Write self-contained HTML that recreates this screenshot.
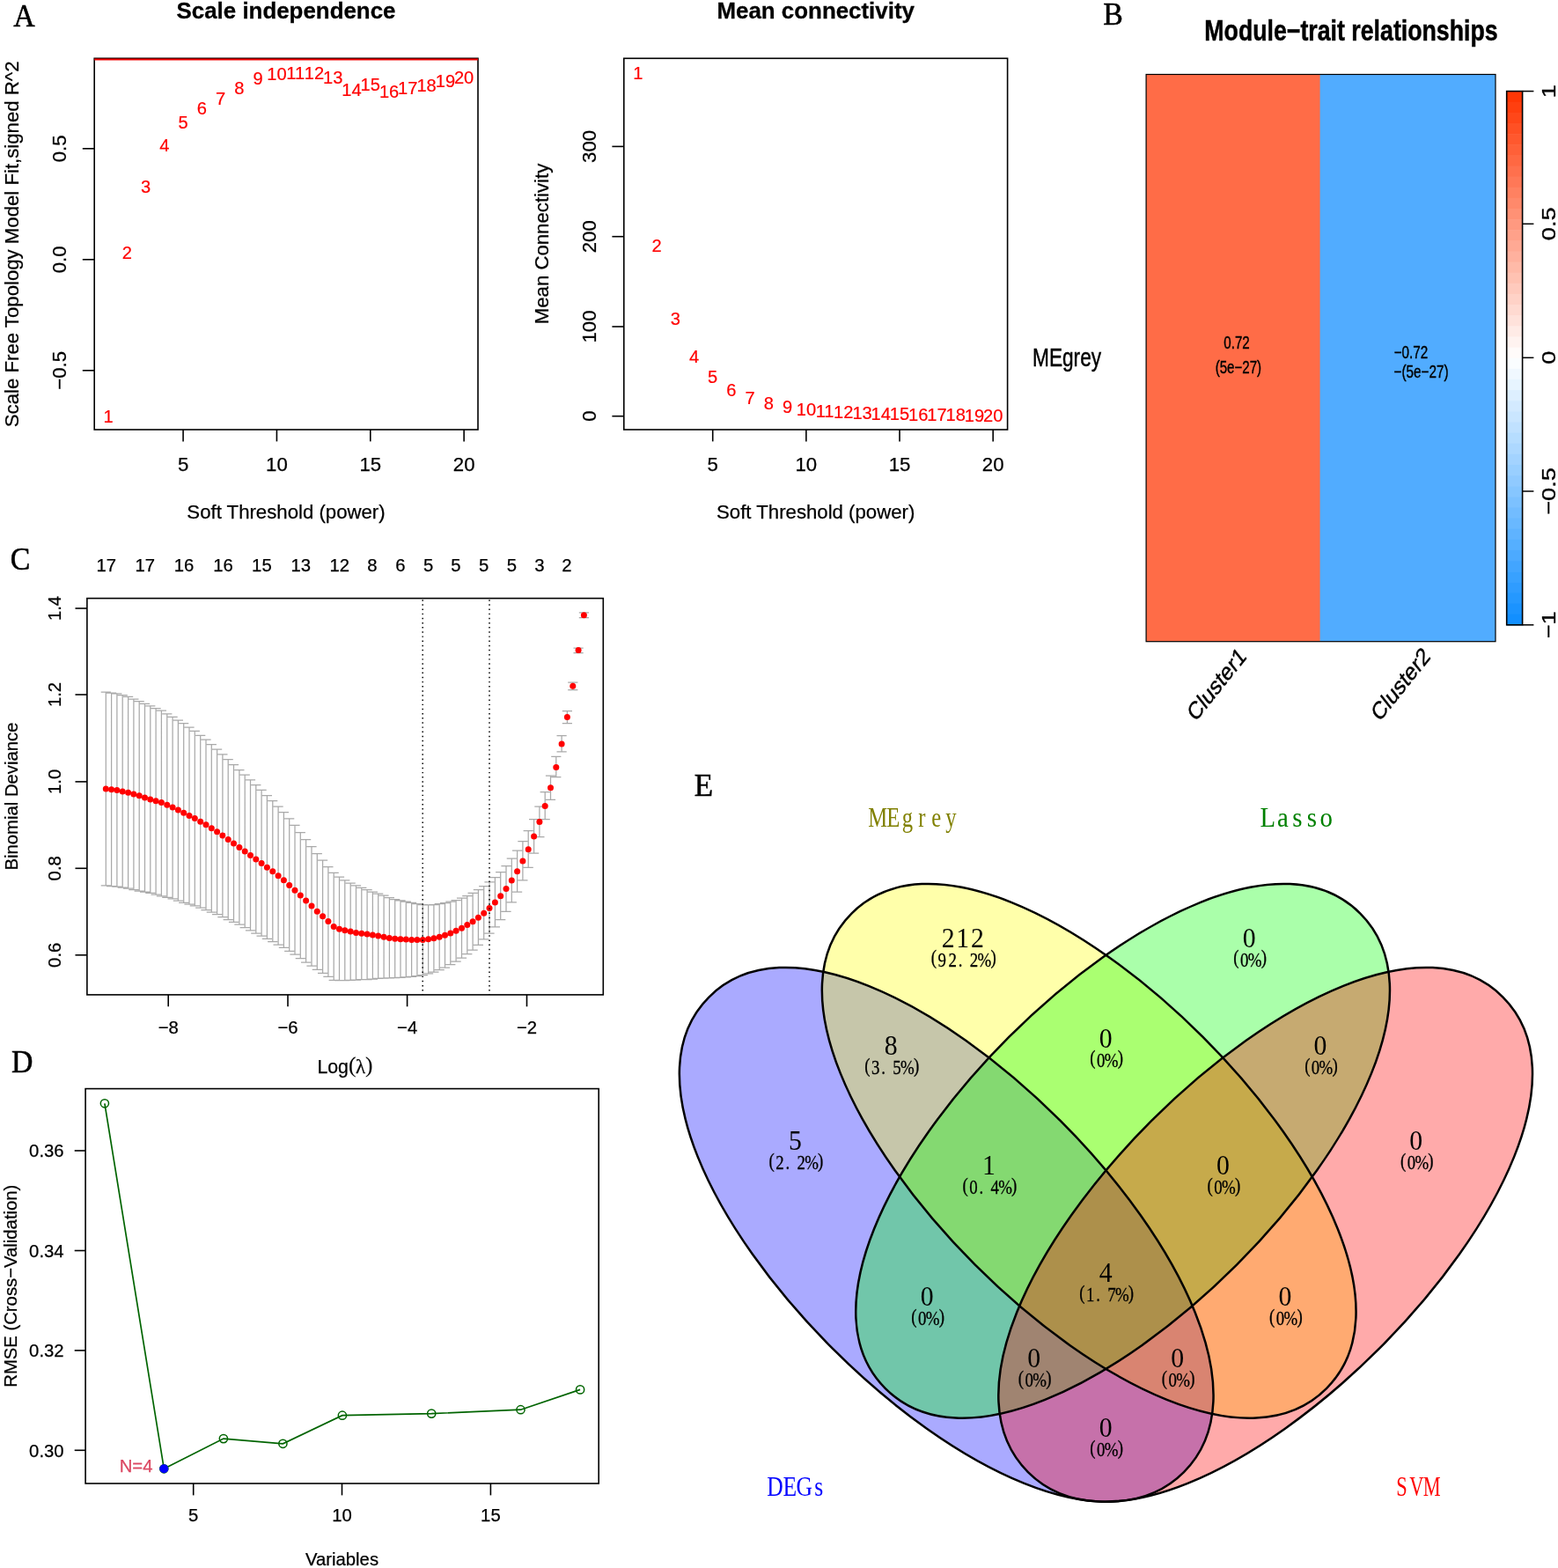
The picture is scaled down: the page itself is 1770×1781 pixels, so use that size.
<!DOCTYPE html>
<html lang="en">
<head>
<meta charset="utf-8">
<title>Figure: WGCNA, LASSO, SVM-RFE and Venn diagram</title>
<style>
html,body{margin:0;padding:0;background:#fff;}
body{width:1770px;height:1781px;overflow:hidden;}
svg{display:block;}
.s{font-family:"Liberation Sans",sans-serif;}
.r{font-family:"Liberation Serif",serif;}
</style>
</head>
<body>
<svg width="1770" height="1781" viewBox="0 0 1770 1781">
<rect x="0" y="0" width="1770" height="1781" fill="#fff"/>
<g id="panelA">
<text class="r" transform="translate(27.40 29.90) scale(0.93 1)" font-size="36.4" text-anchor="middle" stroke="#000" stroke-width="0.55">A</text>
<text class="s" transform="translate(325.00 21.30)" font-size="25.9" text-anchor="middle" font-weight="bold" stroke="#000" stroke-width="0.3">Scale independence</text>
<rect x="107.20" y="66.30" width="435.80" height="421.70" fill="none" stroke="#000" stroke-width="1.6"/>
<line x1="107.20" y1="67.60" x2="543.00" y2="67.60" stroke="#f00000" stroke-width="2.0"/>
<line x1="208.08" y1="488.00" x2="208.08" y2="501.40" stroke="#000" stroke-width="1.6"/>
<text class="s" transform="translate(208.08 534.50)" font-size="22.2" text-anchor="middle" stroke="#000" stroke-width="0.25">5</text>
<line x1="314.43" y1="488.00" x2="314.43" y2="501.40" stroke="#000" stroke-width="1.6"/>
<text class="s" transform="translate(314.43 534.50)" font-size="22.2" text-anchor="middle" stroke="#000" stroke-width="0.25">10</text>
<line x1="420.78" y1="488.00" x2="420.78" y2="501.40" stroke="#000" stroke-width="1.6"/>
<text class="s" transform="translate(420.78 534.50)" font-size="22.2" text-anchor="middle" stroke="#000" stroke-width="0.25">15</text>
<line x1="527.13" y1="488.00" x2="527.13" y2="501.40" stroke="#000" stroke-width="1.6"/>
<text class="s" transform="translate(527.13 534.50)" font-size="22.2" text-anchor="middle" stroke="#000" stroke-width="0.25">20</text>
<line x1="93.80" y1="168.80" x2="107.20" y2="168.80" stroke="#000" stroke-width="1.6"/>
<text class="s" transform="translate(74.80 168.80) rotate(-90)" font-size="22.2" text-anchor="middle" stroke="#000" stroke-width="0.25">0.5</text>
<line x1="93.80" y1="294.80" x2="107.20" y2="294.80" stroke="#000" stroke-width="1.6"/>
<text class="s" transform="translate(74.80 294.80) rotate(-90)" font-size="22.2" text-anchor="middle" stroke="#000" stroke-width="0.25">0.0</text>
<line x1="93.80" y1="420.80" x2="107.20" y2="420.80" stroke="#000" stroke-width="1.6"/>
<text class="s" transform="translate(74.80 420.80) rotate(-90)" font-size="22.2" text-anchor="middle" stroke="#000" stroke-width="0.25">−0.5</text>
<text class="s" transform="translate(20.60 277.30) rotate(-90)" font-size="22.2" text-anchor="middle" stroke="#000" stroke-width="0.25">Scale Free Topology Model Fit,signed R^2</text>
<text class="s" transform="translate(325.00 589.00)" font-size="22.2" text-anchor="middle" stroke="#000" stroke-width="0.25">Soft Threshold (power)</text>
<g class="s" font-size="20.1" fill="#f00" stroke="#f00" stroke-width="0.2" text-anchor="middle">
<text x="123.0" y="479.8">1</text>
<text x="144.3" y="294.1">2</text>
<text x="165.5" y="219.4">3</text>
<text x="186.8" y="172.1">4</text>
<text x="208.1" y="146.3">5</text>
<text x="229.3" y="129.6">6</text>
<text x="250.6" y="118.5">7</text>
<text x="271.9" y="107.1">8</text>
<text x="293.2" y="96.4">9</text>
<text x="314.4" y="91.3">10</text>
<text x="335.7" y="89.7">11</text>
<text x="357.0" y="89.7">12</text>
<text x="378.2" y="94.5">13</text>
<text x="399.5" y="109.1">14</text>
<text x="420.8" y="102.5">15</text>
<text x="442.1" y="111.3">16</text>
<text x="463.3" y="107.4">17</text>
<text x="484.6" y="104.3">18</text>
<text x="505.9" y="99.4">19</text>
<text x="527.1" y="94.8">20</text>
</g>
<text class="s" transform="translate(926.70 21.30)" font-size="25.9" text-anchor="middle" font-weight="bold" stroke="#000" stroke-width="0.3">Mean connectivity</text>
<rect x="708.80" y="66.30" width="435.80" height="421.70" fill="none" stroke="#000" stroke-width="1.6"/>
<line x1="809.72" y1="488.00" x2="809.72" y2="501.40" stroke="#000" stroke-width="1.6"/>
<text class="s" transform="translate(809.72 534.50)" font-size="22.2" text-anchor="middle" stroke="#000" stroke-width="0.25">5</text>
<line x1="915.87" y1="488.00" x2="915.87" y2="501.40" stroke="#000" stroke-width="1.6"/>
<text class="s" transform="translate(915.87 534.50)" font-size="22.2" text-anchor="middle" stroke="#000" stroke-width="0.25">10</text>
<line x1="1022.02" y1="488.00" x2="1022.02" y2="501.40" stroke="#000" stroke-width="1.6"/>
<text class="s" transform="translate(1022.02 534.50)" font-size="22.2" text-anchor="middle" stroke="#000" stroke-width="0.25">15</text>
<line x1="1128.17" y1="488.00" x2="1128.17" y2="501.40" stroke="#000" stroke-width="1.6"/>
<text class="s" transform="translate(1128.17 534.50)" font-size="22.2" text-anchor="middle" stroke="#000" stroke-width="0.25">20</text>
<line x1="695.40" y1="472.70" x2="708.80" y2="472.70" stroke="#000" stroke-width="1.6"/>
<text class="s" transform="translate(677.10 472.70) rotate(-90)" font-size="22.2" text-anchor="middle" stroke="#000" stroke-width="0.25">0</text>
<line x1="695.40" y1="371.00" x2="708.80" y2="371.00" stroke="#000" stroke-width="1.6"/>
<text class="s" transform="translate(677.10 371.00) rotate(-90)" font-size="22.2" text-anchor="middle" stroke="#000" stroke-width="0.25">100</text>
<line x1="695.40" y1="268.70" x2="708.80" y2="268.70" stroke="#000" stroke-width="1.6"/>
<text class="s" transform="translate(677.10 268.70) rotate(-90)" font-size="22.2" text-anchor="middle" stroke="#000" stroke-width="0.25">200</text>
<line x1="695.40" y1="166.40" x2="708.80" y2="166.40" stroke="#000" stroke-width="1.6"/>
<text class="s" transform="translate(677.10 166.40) rotate(-90)" font-size="22.2" text-anchor="middle" stroke="#000" stroke-width="0.25">300</text>
<text class="s" transform="translate(623.20 277.00) rotate(-90)" font-size="22.2" text-anchor="middle" stroke="#000" stroke-width="0.25">Mean Connectivity</text>
<text class="s" transform="translate(926.70 589.00)" font-size="22.2" text-anchor="middle" stroke="#000" stroke-width="0.25">Soft Threshold (power)</text>
<g class="s" font-size="20.1" fill="#f00" stroke="#f00" stroke-width="0.2" text-anchor="middle">
<text x="724.8" y="89.6">1</text>
<text x="746.0" y="285.9">2</text>
<text x="767.3" y="369.2">3</text>
<text x="788.5" y="411.9">4</text>
<text x="809.7" y="434.7">5</text>
<text x="830.9" y="450.1">6</text>
<text x="852.2" y="458.5">7</text>
<text x="873.4" y="464.8">8</text>
<text x="894.6" y="469.0">9</text>
<text x="915.9" y="471.8">10</text>
<text x="937.1" y="473.6">11</text>
<text x="958.3" y="474.9">12</text>
<text x="979.6" y="475.9">13</text>
<text x="1000.8" y="476.7">14</text>
<text x="1022.0" y="477.3">15</text>
<text x="1043.2" y="477.8">16</text>
<text x="1064.5" y="478.1">17</text>
<text x="1085.7" y="478.4">18</text>
<text x="1106.9" y="478.6">19</text>
<text x="1128.2" y="478.8">20</text>
</g>
</g>
<g id="panelB">
<text class="r" transform="translate(1264.60 27.90) scale(0.93 1)" font-size="36.4" text-anchor="middle" stroke="#000" stroke-width="0.55">B</text>
<text class="s" transform="translate(1535.00 45.90) scale(0.81 1)" font-size="33" text-anchor="middle" font-weight="bold" stroke="#000" stroke-width="0.5">Module−trait relationships</text>
<rect x="1302.1" y="84.5" width="198.00" height="644.20" fill="#ff6c47"/>
<rect x="1499.6" y="84.5" width="199.40" height="644.20" fill="#51acff"/>
<rect x="1302.10" y="84.50" width="396.90" height="644.20" fill="none" stroke="#000" stroke-width="1.2"/>
<rect x="1711.7" y="103.60" width="17.899999999999864" height="12.72" fill="#ff3705"/>
<rect x="1711.7" y="115.72" width="17.899999999999864" height="12.72" fill="#ff3f0f"/>
<rect x="1711.7" y="127.85" width="17.899999999999864" height="12.72" fill="#ff4719"/>
<rect x="1711.7" y="139.97" width="17.899999999999864" height="12.72" fill="#ff5024"/>
<rect x="1711.7" y="152.10" width="17.899999999999864" height="12.72" fill="#ff582e"/>
<rect x="1711.7" y="164.22" width="17.899999999999864" height="12.72" fill="#ff6038"/>
<rect x="1711.7" y="176.34" width="17.899999999999864" height="12.72" fill="#ff6842"/>
<rect x="1711.7" y="188.47" width="17.899999999999864" height="12.72" fill="#ff704d"/>
<rect x="1711.7" y="200.59" width="17.899999999999864" height="12.72" fill="#ff7857"/>
<rect x="1711.7" y="212.72" width="17.899999999999864" height="12.72" fill="#ff8161"/>
<rect x="1711.7" y="224.84" width="17.899999999999864" height="12.72" fill="#ff896b"/>
<rect x="1711.7" y="236.96" width="17.899999999999864" height="12.72" fill="#ff9175"/>
<rect x="1711.7" y="249.09" width="17.899999999999864" height="12.72" fill="#ff9980"/>
<rect x="1711.7" y="261.21" width="17.899999999999864" height="12.72" fill="#ffa18a"/>
<rect x="1711.7" y="273.34" width="17.899999999999864" height="12.72" fill="#ffa994"/>
<rect x="1711.7" y="285.46" width="17.899999999999864" height="12.72" fill="#ffb19e"/>
<rect x="1711.7" y="297.58" width="17.899999999999864" height="12.72" fill="#ffbaa8"/>
<rect x="1711.7" y="309.71" width="17.899999999999864" height="12.72" fill="#ffc2b2"/>
<rect x="1711.7" y="321.83" width="17.899999999999864" height="12.72" fill="#ffcabd"/>
<rect x="1711.7" y="333.96" width="17.899999999999864" height="12.72" fill="#ffd2c7"/>
<rect x="1711.7" y="346.08" width="17.899999999999864" height="12.72" fill="#ffdad1"/>
<rect x="1711.7" y="358.20" width="17.899999999999864" height="12.72" fill="#ffe2db"/>
<rect x="1711.7" y="370.33" width="17.899999999999864" height="12.72" fill="#ffebe6"/>
<rect x="1711.7" y="382.45" width="17.899999999999864" height="12.72" fill="#fff3f0"/>
<rect x="1711.7" y="394.58" width="17.899999999999864" height="12.72" fill="#fffbfa"/>
<rect x="1711.7" y="406.70" width="17.899999999999864" height="12.72" fill="#fafdff"/>
<rect x="1711.7" y="418.82" width="17.899999999999864" height="12.72" fill="#f0f8ff"/>
<rect x="1711.7" y="430.95" width="17.899999999999864" height="12.72" fill="#e7f4ff"/>
<rect x="1711.7" y="443.07" width="17.899999999999864" height="12.72" fill="#ddefff"/>
<rect x="1711.7" y="455.20" width="17.899999999999864" height="12.72" fill="#d3eaff"/>
<rect x="1711.7" y="467.32" width="17.899999999999864" height="12.72" fill="#cae6ff"/>
<rect x="1711.7" y="479.44" width="17.899999999999864" height="12.72" fill="#c0e1ff"/>
<rect x="1711.7" y="491.57" width="17.899999999999864" height="12.72" fill="#b6ddff"/>
<rect x="1711.7" y="503.69" width="17.899999999999864" height="12.72" fill="#add8ff"/>
<rect x="1711.7" y="515.82" width="17.899999999999864" height="12.72" fill="#a3d3ff"/>
<rect x="1711.7" y="527.94" width="17.899999999999864" height="12.72" fill="#99cfff"/>
<rect x="1711.7" y="540.06" width="17.899999999999864" height="12.72" fill="#90caff"/>
<rect x="1711.7" y="552.19" width="17.899999999999864" height="12.72" fill="#86c6ff"/>
<rect x="1711.7" y="564.31" width="17.899999999999864" height="12.72" fill="#7cc1ff"/>
<rect x="1711.7" y="576.44" width="17.899999999999864" height="12.72" fill="#72bcff"/>
<rect x="1711.7" y="588.56" width="17.899999999999864" height="12.72" fill="#69b8ff"/>
<rect x="1711.7" y="600.68" width="17.899999999999864" height="12.72" fill="#5fb3ff"/>
<rect x="1711.7" y="612.81" width="17.899999999999864" height="12.72" fill="#55afff"/>
<rect x="1711.7" y="624.93" width="17.899999999999864" height="12.72" fill="#4caaff"/>
<rect x="1711.7" y="637.06" width="17.899999999999864" height="12.72" fill="#42a5ff"/>
<rect x="1711.7" y="649.18" width="17.899999999999864" height="12.72" fill="#38a1ff"/>
<rect x="1711.7" y="661.30" width="17.899999999999864" height="12.72" fill="#2f9cff"/>
<rect x="1711.7" y="673.43" width="17.899999999999864" height="12.72" fill="#2598ff"/>
<rect x="1711.7" y="685.55" width="17.899999999999864" height="12.72" fill="#1b93ff"/>
<rect x="1711.7" y="697.68" width="17.899999999999864" height="12.72" fill="#128fff"/>
<rect x="1711.70" y="103.60" width="17.90" height="606.20" fill="none" stroke="#000" stroke-width="1.6"/>
<line x1="1729.60" y1="103.60" x2="1742.40" y2="103.60" stroke="#000" stroke-width="1.5"/>
<text class="s" transform="translate(1767.30 103.60) scale(0.83 1) rotate(-90)" font-size="27.2" text-anchor="middle" stroke="#000" stroke-width="0.4">1</text>
<line x1="1729.60" y1="254.30" x2="1742.40" y2="254.30" stroke="#000" stroke-width="1.5"/>
<text class="s" transform="translate(1767.30 254.30) scale(0.83 1) rotate(-90)" font-size="27.2" text-anchor="middle" stroke="#000" stroke-width="0.4">0.5</text>
<line x1="1729.60" y1="406.30" x2="1742.40" y2="406.30" stroke="#000" stroke-width="1.5"/>
<text class="s" transform="translate(1767.30 406.30) scale(0.83 1) rotate(-90)" font-size="27.2" text-anchor="middle" stroke="#000" stroke-width="0.4">0</text>
<line x1="1729.60" y1="558.00" x2="1742.40" y2="558.00" stroke="#000" stroke-width="1.5"/>
<text class="s" transform="translate(1767.30 558.00) scale(0.83 1) rotate(-90)" font-size="27.2" text-anchor="middle" stroke="#000" stroke-width="0.4">−0.5</text>
<line x1="1729.60" y1="709.80" x2="1742.40" y2="709.80" stroke="#000" stroke-width="1.5"/>
<text class="s" transform="translate(1767.30 709.80) scale(0.83 1) rotate(-90)" font-size="27.2" text-anchor="middle" stroke="#000" stroke-width="0.4">−1</text>
<text class="s" transform="translate(1173.00 416.00) scale(0.79 1)" font-size="28.7" stroke="#000" stroke-width="0.45">MEgrey</text>
<text class="s" transform="translate(1405.00 395.70) scale(0.755 1)" font-size="20" text-anchor="middle" stroke="#000" stroke-width="0.4">0.72</text>
<text class="s" transform="translate(1406.90 424.00) scale(0.755 1)" font-size="20" text-anchor="middle" stroke="#000" stroke-width="0.4">(5e−27)</text>
<text class="s" transform="translate(1603.00 406.80) scale(0.765 1)" font-size="20" text-anchor="middle" stroke="#000" stroke-width="0.4">−0.72</text>
<text class="s" transform="translate(1614.50 428.70) scale(0.765 1)" font-size="20" text-anchor="middle" stroke="#000" stroke-width="0.4">−(5e−27)</text>
<text class="s" transform="translate(1417.00 747.00) scale(0.8 1) rotate(-45)" font-size="28" text-anchor="end" stroke="#000" stroke-width="0.45">Cluster1</text>
<text class="s" transform="translate(1626.00 747.00) scale(0.8 1) rotate(-45)" font-size="28" text-anchor="end" stroke="#000" stroke-width="0.45">Cluster2</text>
</g>
<g id="panelC">
<text class="r" transform="translate(23.10 647.00) scale(0.93 1)" font-size="36.4" text-anchor="middle" stroke="#000" stroke-width="0.55">C</text>
<text class="s" transform="translate(120.80 649.00)" font-size="20.3" text-anchor="middle" stroke="#000" stroke-width="0.25">17</text>
<text class="s" transform="translate(164.80 649.00)" font-size="20.3" text-anchor="middle" stroke="#000" stroke-width="0.25">17</text>
<text class="s" transform="translate(209.00 649.00)" font-size="20.3" text-anchor="middle" stroke="#000" stroke-width="0.25">16</text>
<text class="s" transform="translate(253.50 649.00)" font-size="20.3" text-anchor="middle" stroke="#000" stroke-width="0.25">16</text>
<text class="s" transform="translate(297.40 649.00)" font-size="20.3" text-anchor="middle" stroke="#000" stroke-width="0.25">15</text>
<text class="s" transform="translate(341.70 649.00)" font-size="20.3" text-anchor="middle" stroke="#000" stroke-width="0.25">13</text>
<text class="s" transform="translate(385.70 649.00)" font-size="20.3" text-anchor="middle" stroke="#000" stroke-width="0.25">12</text>
<text class="s" transform="translate(423.00 649.00)" font-size="20.3" text-anchor="middle" stroke="#000" stroke-width="0.25">8</text>
<text class="s" transform="translate(454.80 649.00)" font-size="20.3" text-anchor="middle" stroke="#000" stroke-width="0.25">6</text>
<text class="s" transform="translate(486.60 649.00)" font-size="20.3" text-anchor="middle" stroke="#000" stroke-width="0.25">5</text>
<text class="s" transform="translate(518.00 649.00)" font-size="20.3" text-anchor="middle" stroke="#000" stroke-width="0.25">5</text>
<text class="s" transform="translate(549.60 649.00)" font-size="20.3" text-anchor="middle" stroke="#000" stroke-width="0.25">5</text>
<text class="s" transform="translate(581.40 649.00)" font-size="20.3" text-anchor="middle" stroke="#000" stroke-width="0.25">5</text>
<text class="s" transform="translate(613.00 649.00)" font-size="20.3" text-anchor="middle" stroke="#000" stroke-width="0.25">3</text>
<text class="s" transform="translate(644.00 649.00)" font-size="20.3" text-anchor="middle" stroke="#000" stroke-width="0.25">2</text>
<path d="M120.3 786.1V1005.9M114.7 786.1h11.2M114.7 1005.9h11.2M126.6 787.0V1006.5M121.0 787.0h11.2M121.0 1006.5h11.2M132.9 787.9V1007.2M127.3 787.9h11.2M127.3 1007.2h11.2M139.2 789.7V1008.1M133.6 789.7h11.2M133.6 1008.1h11.2M145.6 791.4V1009.1M140.0 791.4h11.2M140.0 1009.1h11.2M151.9 794.0V1010.5M146.3 794.0h11.2M146.3 1010.5h11.2M158.2 796.6V1012.0M152.6 796.6h11.2M152.6 1012.0h11.2M164.5 799.3V1013.1M158.9 799.3h11.2M158.9 1013.1h11.2M170.8 801.9V1014.3M165.2 801.9h11.2M165.2 1014.3h11.2M177.1 804.6V1016.0M171.5 804.6h11.2M171.5 1016.0h11.2M183.4 807.2V1017.8M177.8 807.2h11.2M177.8 1017.8h11.2M189.8 810.8V1019.3M184.2 810.8h11.2M184.2 1019.3h11.2M196.1 814.3V1020.9M190.5 814.3h11.2M190.5 1020.9h11.2M202.4 818.0V1023.2M196.8 818.0h11.2M196.8 1023.2h11.2M208.7 821.7V1025.4M203.1 821.7h11.2M203.1 1025.4h11.2M215.0 826.1V1027.1M209.4 826.1h11.2M209.4 1027.1h11.2M221.3 830.4V1028.8M215.7 830.4h11.2M215.7 1028.8h11.2M227.7 835.3V1031.2M222.1 835.3h11.2M222.1 1031.2h11.2M234.0 840.2V1033.6M228.4 840.2h11.2M228.4 1033.6h11.2M240.3 845.6V1036.1M234.7 845.6h11.2M234.7 1036.1h11.2M246.6 851.0V1038.6M241.0 851.0h11.2M241.0 1038.6h11.2M252.9 856.8V1041.6M247.3 856.8h11.2M247.3 1041.6h11.2M259.2 862.6V1044.7M253.6 862.6h11.2M253.6 1044.7h11.2M265.5 868.5V1047.4M259.9 868.5h11.2M259.9 1047.4h11.2M271.9 874.5V1050.2M266.3 874.5h11.2M266.3 1050.2h11.2M278.2 880.2V1053.5M272.6 880.2h11.2M272.6 1053.5h11.2M284.5 885.8V1056.8M278.9 885.8h11.2M278.9 1056.8h11.2M290.8 891.6V1060.0M285.2 891.6h11.2M285.2 1060.0h11.2M297.1 897.4V1063.1M291.5 897.4h11.2M291.5 1063.1h11.2M303.4 903.5V1066.4M297.8 903.5h11.2M297.8 1066.4h11.2M309.8 909.6V1069.7M304.1 909.6h11.2M304.1 1069.7h11.2M316.1 916.0V1073.0M310.5 916.0h11.2M310.5 1073.0h11.2M322.4 922.5V1076.3M316.8 922.5h11.2M316.8 1076.3h11.2M328.7 929.9V1080.3M323.1 929.9h11.2M323.1 1080.3h11.2M335.0 937.3V1084.2M329.4 937.3h11.2M329.4 1084.2h11.2M341.3 945.5V1088.6M335.7 945.5h11.2M335.7 1088.6h11.2M347.6 953.6V1093.0M342.0 953.6h11.2M342.0 1093.0h11.2M354.0 961.6V1097.2M348.4 961.6h11.2M348.4 1097.2h11.2M360.3 969.5V1101.4M354.7 969.5h11.2M354.7 1101.4h11.2M366.6 977.0V1105.4M361.0 977.0h11.2M361.0 1105.4h11.2M372.9 984.5V1109.3M367.3 984.5h11.2M367.3 1109.3h11.2M379.2 991.4V1113.3M373.6 991.4h11.2M373.6 1113.3h11.2M385.5 996.1V1113.5M379.9 996.1h11.2M379.9 1113.5h11.2M391.8 999.8V1113.5M386.2 999.8h11.2M386.2 1113.5h11.2M398.2 1003.0V1113.3M392.6 1003.0h11.2M392.6 1113.3h11.2M404.5 1005.9V1113.0M398.9 1005.9h11.2M398.9 1113.0h11.2M410.8 1008.3V1112.7M405.2 1008.3h11.2M405.2 1112.7h11.2M417.1 1010.6V1112.5M411.5 1010.6h11.2M411.5 1112.5h11.2M423.4 1013.0V1112.0M417.8 1013.0h11.2M417.8 1112.0h11.2M429.7 1015.1V1111.4M424.1 1015.1h11.2M424.1 1111.4h11.2M436.1 1017.2V1111.2M430.4 1017.2h11.2M430.4 1111.2h11.2M442.4 1019.6V1110.9M436.8 1019.6h11.2M436.8 1110.9h11.2M448.7 1021.5V1110.6M443.1 1021.5h11.2M443.1 1110.6h11.2M455.0 1022.8V1110.4M449.4 1022.8h11.2M449.4 1110.4h11.2M461.3 1024.1V1109.8M455.7 1024.1h11.2M455.7 1109.8h11.2M467.6 1025.4V1109.3M462.0 1025.4h11.2M462.0 1109.3h11.2M473.9 1026.7V1108.5M468.3 1026.7h11.2M468.3 1108.5h11.2M480.3 1027.5V1107.7M474.7 1027.5h11.2M474.7 1107.7h11.2M486.6 1027.8V1105.9M481.0 1027.8h11.2M481.0 1105.9h11.2M492.9 1027.5V1104.0M487.3 1027.5h11.2M487.3 1104.0h11.2M499.2 1026.7V1101.7M493.6 1026.7h11.2M493.6 1101.7h11.2M505.5 1025.7V1099.0M499.9 1025.7h11.2M499.9 1099.0h11.2M511.8 1024.1V1095.6M506.2 1024.1h11.2M506.2 1095.6h11.2M518.1 1022.5V1092.2M512.5 1022.5h11.2M512.5 1092.2h11.2M524.5 1020.1V1088.2M518.9 1020.1h11.2M518.9 1088.2h11.2M530.8 1017.5V1083.7M525.2 1017.5h11.2M525.2 1083.7h11.2M537.1 1014.3V1079.2M531.5 1014.3h11.2M531.5 1079.2h11.2M543.4 1010.6V1073.4M537.8 1010.6h11.2M537.8 1073.4h11.2M549.7 1006.7V1066.8M544.1 1006.7h11.2M544.1 1066.8h11.2M556.0 1001.9V1060.2M550.4 1001.9h11.2M550.4 1060.2h11.2M562.4 996.6V1052.8M556.8 996.6h11.2M556.8 1052.8h11.2M568.7 990.6V1044.7M563.1 990.6h11.2M563.1 1044.7h11.2M575.0 983.5V1035.4M569.4 983.5h11.2M569.4 1035.4h11.2M581.3 975.0V1024.9M575.7 975.0h11.2M575.7 1024.9h11.2M587.6 966.0V1013.0M582.0 966.0h11.2M582.0 1013.0h11.2M593.9 955.5V999.8M588.3 955.5h11.2M588.3 999.8h11.2M600.2 943.6V985.3M594.6 943.6h11.2M594.6 985.3h11.2M606.6 930.7V969.2M601.0 930.7h11.2M601.0 969.2h11.2M612.9 916.2V950.7M607.3 916.2h11.2M607.3 950.7h11.2M619.2 899.6V930.7M613.6 899.6h11.2M613.6 930.7h11.2M625.5 881.1V908.3M619.9 881.1h11.2M619.9 908.3h11.2M631.8 859.4V882.7M626.2 859.4h11.2M626.2 882.7h11.2M638.1 835.7V853.9M632.5 835.7h11.2M632.5 853.9h11.2M644.4 807.7V821.5M638.8 807.7h11.2M638.8 821.5h11.2M650.8 775.0V783.5M645.2 775.0h11.2M645.2 783.5h11.2M657.1 736.0V741.5M651.5 736.0h11.2M651.5 741.5h11.2M663.4 695.9V701.7M657.8 695.9h11.2M657.8 701.7h11.2" fill="none" stroke="#a9a9a9" stroke-width="1.25"/>
<g fill="#f00">
<circle cx="120.3" cy="896.1" r="3.5"/>
<circle cx="126.6" cy="896.8" r="3.5"/>
<circle cx="132.9" cy="897.4" r="3.5"/>
<circle cx="139.2" cy="898.9" r="3.5"/>
<circle cx="145.6" cy="900.3" r="3.5"/>
<circle cx="151.9" cy="902.1" r="3.5"/>
<circle cx="158.2" cy="903.8" r="3.5"/>
<circle cx="164.5" cy="905.9" r="3.5"/>
<circle cx="170.8" cy="908.0" r="3.5"/>
<circle cx="177.1" cy="909.7" r="3.5"/>
<circle cx="183.4" cy="911.4" r="3.5"/>
<circle cx="189.8" cy="914.2" r="3.5"/>
<circle cx="196.1" cy="917.0" r="3.5"/>
<circle cx="202.4" cy="920.1" r="3.5"/>
<circle cx="208.7" cy="923.3" r="3.5"/>
<circle cx="215.0" cy="926.5" r="3.5"/>
<circle cx="221.3" cy="929.6" r="3.5"/>
<circle cx="227.7" cy="933.2" r="3.5"/>
<circle cx="234.0" cy="936.8" r="3.5"/>
<circle cx="240.3" cy="940.7" r="3.5"/>
<circle cx="246.6" cy="944.7" r="3.5"/>
<circle cx="252.9" cy="949.0" r="3.5"/>
<circle cx="259.2" cy="953.4" r="3.5"/>
<circle cx="265.5" cy="958.0" r="3.5"/>
<circle cx="271.9" cy="962.6" r="3.5"/>
<circle cx="278.2" cy="967.1" r="3.5"/>
<circle cx="284.5" cy="971.6" r="3.5"/>
<circle cx="290.8" cy="976.1" r="3.5"/>
<circle cx="297.1" cy="980.6" r="3.5"/>
<circle cx="303.4" cy="985.2" r="3.5"/>
<circle cx="309.8" cy="989.8" r="3.5"/>
<circle cx="316.1" cy="994.8" r="3.5"/>
<circle cx="322.4" cy="999.8" r="3.5"/>
<circle cx="328.7" cy="1005.5" r="3.5"/>
<circle cx="335.0" cy="1011.2" r="3.5"/>
<circle cx="341.3" cy="1017.1" r="3.5"/>
<circle cx="347.6" cy="1023.0" r="3.5"/>
<circle cx="354.0" cy="1029.1" r="3.5"/>
<circle cx="360.3" cy="1035.2" r="3.5"/>
<circle cx="366.6" cy="1040.8" r="3.5"/>
<circle cx="372.9" cy="1046.5" r="3.5"/>
<circle cx="379.2" cy="1052.6" r="3.5"/>
<circle cx="385.5" cy="1055.2" r="3.5"/>
<circle cx="391.8" cy="1056.8" r="3.5"/>
<circle cx="398.2" cy="1058.1" r="3.5"/>
<circle cx="404.5" cy="1059.4" r="3.5"/>
<circle cx="410.8" cy="1060.2" r="3.5"/>
<circle cx="417.1" cy="1061.0" r="3.5"/>
<circle cx="423.4" cy="1062.1" r="3.5"/>
<circle cx="429.7" cy="1063.1" r="3.5"/>
<circle cx="436.1" cy="1064.2" r="3.5"/>
<circle cx="442.4" cy="1065.5" r="3.5"/>
<circle cx="448.7" cy="1066.3" r="3.5"/>
<circle cx="455.0" cy="1066.8" r="3.5"/>
<circle cx="461.3" cy="1067.1" r="3.5"/>
<circle cx="467.6" cy="1067.4" r="3.5"/>
<circle cx="473.9" cy="1067.6" r="3.5"/>
<circle cx="480.3" cy="1067.6" r="3.5"/>
<circle cx="486.6" cy="1066.8" r="3.5"/>
<circle cx="492.9" cy="1065.8" r="3.5"/>
<circle cx="499.2" cy="1064.2" r="3.5"/>
<circle cx="505.5" cy="1062.3" r="3.5"/>
<circle cx="511.8" cy="1060.0" r="3.5"/>
<circle cx="518.1" cy="1057.3" r="3.5"/>
<circle cx="524.5" cy="1054.2" r="3.5"/>
<circle cx="530.8" cy="1050.5" r="3.5"/>
<circle cx="537.1" cy="1046.8" r="3.5"/>
<circle cx="543.4" cy="1042.3" r="3.5"/>
<circle cx="549.7" cy="1037.3" r="3.5"/>
<circle cx="556.0" cy="1031.5" r="3.5"/>
<circle cx="562.4" cy="1025.1" r="3.5"/>
<circle cx="568.7" cy="1017.8" r="3.5"/>
<circle cx="575.0" cy="1009.6" r="3.5"/>
<circle cx="581.3" cy="1000.1" r="3.5"/>
<circle cx="587.6" cy="989.8" r="3.5"/>
<circle cx="593.9" cy="977.9" r="3.5"/>
<circle cx="600.2" cy="964.7" r="3.5"/>
<circle cx="606.6" cy="949.9" r="3.5"/>
<circle cx="612.9" cy="933.6" r="3.5"/>
<circle cx="619.2" cy="915.4" r="3.5"/>
<circle cx="625.5" cy="894.8" r="3.5"/>
<circle cx="631.8" cy="871.6" r="3.5"/>
<circle cx="638.1" cy="844.9" r="3.5"/>
<circle cx="644.4" cy="814.6" r="3.5"/>
<circle cx="650.8" cy="779.2" r="3.5"/>
<circle cx="657.1" cy="738.6" r="3.5"/>
<circle cx="663.4" cy="698.8" r="3.5"/>
</g>
<line x1="480.20" y1="681.20" x2="480.20" y2="1129.90" stroke="#000" stroke-width="1.5" stroke-dasharray="1.45 3.7"/>
<line x1="556.00" y1="681.20" x2="556.00" y2="1129.90" stroke="#000" stroke-width="1.5" stroke-dasharray="1.45 3.7"/>
<rect x="98.90" y="679.60" width="586.40" height="450.30" fill="none" stroke="#000" stroke-width="1.6"/>
<line x1="191.20" y1="1129.90" x2="191.20" y2="1143.30" stroke="#000" stroke-width="1.6"/>
<text class="s" transform="translate(191.20 1174.20)" font-size="20.3" text-anchor="middle" stroke="#000" stroke-width="0.25">−8</text>
<line x1="327.00" y1="1129.90" x2="327.00" y2="1143.30" stroke="#000" stroke-width="1.6"/>
<text class="s" transform="translate(327.00 1174.20)" font-size="20.3" text-anchor="middle" stroke="#000" stroke-width="0.25">−6</text>
<line x1="462.60" y1="1129.90" x2="462.60" y2="1143.30" stroke="#000" stroke-width="1.6"/>
<text class="s" transform="translate(462.60 1174.20)" font-size="20.3" text-anchor="middle" stroke="#000" stroke-width="0.25">−4</text>
<line x1="598.50" y1="1129.90" x2="598.50" y2="1143.30" stroke="#000" stroke-width="1.6"/>
<text class="s" transform="translate(598.50 1174.20)" font-size="20.3" text-anchor="middle" stroke="#000" stroke-width="0.25">−2</text>
<line x1="85.50" y1="691.00" x2="98.90" y2="691.00" stroke="#000" stroke-width="1.6"/>
<text class="s" transform="translate(68.50 691.00) rotate(-90)" font-size="20.3" text-anchor="middle" stroke="#000" stroke-width="0.25">1.4</text>
<line x1="85.50" y1="789.00" x2="98.90" y2="789.00" stroke="#000" stroke-width="1.6"/>
<text class="s" transform="translate(68.50 789.00) rotate(-90)" font-size="20.3" text-anchor="middle" stroke="#000" stroke-width="0.25">1.2</text>
<line x1="85.50" y1="887.90" x2="98.90" y2="887.90" stroke="#000" stroke-width="1.6"/>
<text class="s" transform="translate(68.50 887.90) rotate(-90)" font-size="20.3" text-anchor="middle" stroke="#000" stroke-width="0.25">1.0</text>
<line x1="85.50" y1="986.30" x2="98.90" y2="986.30" stroke="#000" stroke-width="1.6"/>
<text class="s" transform="translate(68.50 986.30) rotate(-90)" font-size="20.3" text-anchor="middle" stroke="#000" stroke-width="0.25">0.8</text>
<line x1="85.50" y1="1084.80" x2="98.90" y2="1084.80" stroke="#000" stroke-width="1.6"/>
<text class="s" transform="translate(68.50 1084.80) rotate(-90)" font-size="20.3" text-anchor="middle" stroke="#000" stroke-width="0.25">0.6</text>
<text class="s" transform="translate(19.70 904.50) rotate(-90)" font-size="20.3" text-anchor="middle" stroke="#000" stroke-width="0.25">Binomial Deviance</text>
<text transform="translate(360.4 1218.6)" font-size="21.3" stroke="#000" stroke-width="0.25"><tspan class="s">Log</tspan><tspan class="r" font-size="25.5" dy="-1.0" dx="0.1" stroke-width="0.1">(</tspan><tspan class="r" font-size="23" dy="1.0" dx="-0.5">λ</tspan><tspan class="r" font-size="25.5" dy="-1.0" dx="-0.2" stroke-width="0.1">)</tspan></text>
</g>
<g id="panelD">
<text class="r" transform="translate(25.20 1217.70) scale(0.93 1)" font-size="36.4" text-anchor="middle" stroke="#000" stroke-width="0.55">D</text>
<polyline points="118.9,1253.3 186.3,1668.3 253.9,1634.1 321.4,1639.8 388.9,1607.7 490.2,1605.6 591.5,1601.2 659.1,1578.4" fill="none" stroke="#006400" stroke-width="1.7"/>
<circle cx="118.9" cy="1253.3" r="4.6" fill="none" stroke="#006400" stroke-width="1.5"/>
<circle cx="186.3" cy="1668.3" r="4.6" fill="none" stroke="#006400" stroke-width="1.5"/>
<circle cx="253.9" cy="1634.1" r="4.6" fill="none" stroke="#006400" stroke-width="1.5"/>
<circle cx="321.4" cy="1639.8" r="4.6" fill="none" stroke="#006400" stroke-width="1.5"/>
<circle cx="388.9" cy="1607.7" r="4.6" fill="none" stroke="#006400" stroke-width="1.5"/>
<circle cx="490.2" cy="1605.6" r="4.6" fill="none" stroke="#006400" stroke-width="1.5"/>
<circle cx="591.5" cy="1601.2" r="4.6" fill="none" stroke="#006400" stroke-width="1.5"/>
<circle cx="659.1" cy="1578.4" r="4.6" fill="none" stroke="#006400" stroke-width="1.5"/>
<circle cx="186.3" cy="1668.3" r="5" fill="#0000ff"/>
<text class="s" transform="translate(173.50 1672.20)" font-size="20.3" text-anchor="end" fill="#db4862" stroke="#db4862" stroke-width="0.25">N=4</text>
<rect x="97.10" y="1236.60" width="583.10" height="448.40" fill="none" stroke="#000" stroke-width="1.6"/>
<line x1="219.70" y1="1685.00" x2="219.70" y2="1698.40" stroke="#000" stroke-width="1.6"/>
<text class="s" transform="translate(219.70 1728.00)" font-size="20.3" text-anchor="middle" stroke="#000" stroke-width="0.25">5</text>
<line x1="388.50" y1="1685.00" x2="388.50" y2="1698.40" stroke="#000" stroke-width="1.6"/>
<text class="s" transform="translate(388.50 1728.00)" font-size="20.3" text-anchor="middle" stroke="#000" stroke-width="0.25">10</text>
<line x1="557.40" y1="1685.00" x2="557.40" y2="1698.40" stroke="#000" stroke-width="1.6"/>
<text class="s" transform="translate(557.40 1728.00)" font-size="20.3" text-anchor="middle" stroke="#000" stroke-width="0.25">15</text>
<line x1="84.70" y1="1307.00" x2="97.10" y2="1307.00" stroke="#000" stroke-width="1.6"/>
<text class="s" transform="translate(72.60 1314.30)" font-size="20.3" text-anchor="end" stroke="#000" stroke-width="0.25">0.36</text>
<line x1="84.70" y1="1420.50" x2="97.10" y2="1420.50" stroke="#000" stroke-width="1.6"/>
<text class="s" transform="translate(72.60 1427.80)" font-size="20.3" text-anchor="end" stroke="#000" stroke-width="0.25">0.34</text>
<line x1="84.70" y1="1533.90" x2="97.10" y2="1533.90" stroke="#000" stroke-width="1.6"/>
<text class="s" transform="translate(72.60 1541.20)" font-size="20.3" text-anchor="end" stroke="#000" stroke-width="0.25">0.32</text>
<line x1="84.70" y1="1647.30" x2="97.10" y2="1647.30" stroke="#000" stroke-width="1.6"/>
<text class="s" transform="translate(72.60 1654.60)" font-size="20.3" text-anchor="end" stroke="#000" stroke-width="0.25">0.30</text>
<text class="s" transform="translate(19.10 1460.70) rotate(-90)" font-size="20.3" text-anchor="middle" stroke="#000" stroke-width="0.25">RMSE (Cross−Validation)</text>
<text class="s" transform="translate(388.50 1777.80)" font-size="20.3" text-anchor="middle" stroke="#000" stroke-width="0.25">Variables</text>
</g>
<g id="panelE">
<text class="r" transform="translate(799.40 904.10) scale(0.96 1)" font-size="36.4" text-anchor="middle" stroke="#000" stroke-width="0.55">E</text>
<defs><path id="oval" d="M-381.5 0C-381.5 -244.00 381.5 -244.00 381.5 0C381.5 244.00 -381.5 244.00 -381.5 0Z"/></defs>
<use href="#oval" transform="translate(1075.20 1402.30) rotate(45)" fill="#0000ff" fill-opacity="0.333"/>
<use href="#oval" transform="translate(1237.20 1307.30) rotate(45)" fill="#ffff00" fill-opacity="0.333"/>
<use href="#oval" transform="translate(1275.60 1307.30) rotate(-45)" fill="#00ff00" fill-opacity="0.333"/>
<use href="#oval" transform="translate(1437.65 1402.30) rotate(-45)" fill="#ff0000" fill-opacity="0.333"/>
<g fill="none" stroke="#000" stroke-width="2.5">
<use href="#oval" transform="translate(1075.20 1402.30) rotate(45)"/>
<use href="#oval" transform="translate(1237.20 1307.30) rotate(45)"/>
<use href="#oval" transform="translate(1275.60 1307.30) rotate(-45)"/>
<use href="#oval" transform="translate(1437.65 1402.30) rotate(-45)"/>
</g>
<text class="r" transform="translate(1039.1 939.0) scale(0.77 1)" x="-54.5 -31.6 -10.7 10.7 32.1 53.6" font-size="32" text-anchor="middle" fill="#808000">MEgrey</text>
<text class="r" transform="translate(1473.8 939.0) scale(0.9 1)" x="-37.2 -18.3 0.0 18.3 36.7" font-size="32" text-anchor="middle" fill="#008000">Lasso</text>
<text class="r" transform="translate(905.6 1699.0) scale(0.8 1)" x="-31.4 -10.3 10.3 30.9" font-size="32" text-anchor="middle" fill="#0000ff">DEGs</text>
<text class="r" transform="translate(1609.4 1699.0) scale(0.7 1)" x="-24.1 0.0 24.9" font-size="32" text-anchor="middle" fill="#ff0000">SVM</text>
<text class="r" transform="translate(1093.8 1075.6) scale(0.93 1)" x="-18.0 0.0 18.0" font-size="32" text-anchor="middle">212</text>
<text class="r" transform="translate(1094.4 1097.7) scale(0.82 1)" x="-40.9 -29.5 -14.8 -3.9 14.8 29.3 41.7" y="-2.4 0.0 0.0 0.0 0.0 0.0 -2.4" font-size="23" text-anchor="middle" stroke="#000" stroke-width="0.3">(92.2%)</text>
<text class="r" transform="translate(1419.1 1075.6) scale(0.93 1)" x="0.0" font-size="32" text-anchor="middle">0</text>
<text class="r" transform="translate(1419.7 1097.7) scale(0.82 1)" x="-18.7 -7.4 7.1 19.6" y="-2.4 0.0 0.0 -2.4" font-size="23" text-anchor="middle" stroke="#000" stroke-width="0.3">(0%)</text>
<text class="r" transform="translate(1012.3 1197.8) scale(0.93 1)" x="0.0" font-size="32" text-anchor="middle">8</text>
<text class="r" transform="translate(1012.9 1219.9) scale(0.82 1)" x="-33.5 -22.1 -11.3 7.4 21.9 34.3" y="-2.4 0.0 0.0 0.0 0.0 -2.4" font-size="23" text-anchor="middle" stroke="#000" stroke-width="0.3">(3.5%)</text>
<text class="r" transform="translate(1256.2 1189.7) scale(0.93 1)" x="0.0" font-size="32" text-anchor="middle">0</text>
<text class="r" transform="translate(1256.8 1211.8) scale(0.82 1)" x="-18.7 -7.4 7.1 19.6" y="-2.4 0.0 0.0 -2.4" font-size="23" text-anchor="middle" stroke="#000" stroke-width="0.3">(0%)</text>
<text class="r" transform="translate(1500.0 1197.8) scale(0.93 1)" x="0.0" font-size="32" text-anchor="middle">0</text>
<text class="r" transform="translate(1500.6 1219.9) scale(0.82 1)" x="-18.7 -7.4 7.1 19.6" y="-2.4 0.0 0.0 -2.4" font-size="23" text-anchor="middle" stroke="#000" stroke-width="0.3">(0%)</text>
<text class="r" transform="translate(903.5 1306.1) scale(0.93 1)" x="0.0" font-size="32" text-anchor="middle">5</text>
<text class="r" transform="translate(904.1 1328.2) scale(0.82 1)" x="-33.5 -22.1 -11.3 7.4 21.9 34.3" y="-2.4 0.0 0.0 0.0 0.0 -2.4" font-size="23" text-anchor="middle" stroke="#000" stroke-width="0.3">(2.2%)</text>
<text class="r" transform="translate(1123.5 1334.0) scale(0.93 1)" x="0.0" font-size="32" text-anchor="middle">1</text>
<text class="r" transform="translate(1124.1 1356.1) scale(0.82 1)" x="-33.5 -22.1 -11.3 7.4 21.9 34.3" y="-2.4 0.0 0.0 0.0 0.0 -2.4" font-size="23" text-anchor="middle" stroke="#000" stroke-width="0.3">(0.4%)</text>
<text class="r" transform="translate(1389.4 1334.0) scale(0.93 1)" x="0.0" font-size="32" text-anchor="middle">0</text>
<text class="r" transform="translate(1390.0 1356.1) scale(0.82 1)" x="-18.7 -7.4 7.1 19.6" y="-2.4 0.0 0.0 -2.4" font-size="23" text-anchor="middle" stroke="#000" stroke-width="0.3">(0%)</text>
<text class="r" transform="translate(1608.8 1306.1) scale(0.93 1)" x="0.0" font-size="32" text-anchor="middle">0</text>
<text class="r" transform="translate(1609.4 1328.2) scale(0.82 1)" x="-18.7 -7.4 7.1 19.6" y="-2.4 0.0 0.0 -2.4" font-size="23" text-anchor="middle" stroke="#000" stroke-width="0.3">(0%)</text>
<text class="r" transform="translate(1256.2 1456.2) scale(0.93 1)" x="0.0" font-size="32" text-anchor="middle">4</text>
<text class="r" transform="translate(1256.8 1478.3) scale(0.82 1)" x="-33.5 -22.1 -11.3 7.4 21.9 34.3" y="-2.4 0.0 0.0 0.0 0.0 -2.4" font-size="23" text-anchor="middle" stroke="#000" stroke-width="0.3">(1.7%)</text>
<text class="r" transform="translate(1053.1 1483.0) scale(0.93 1)" x="0.0" font-size="32" text-anchor="middle">0</text>
<text class="r" transform="translate(1053.7 1505.1) scale(0.82 1)" x="-18.7 -7.4 7.1 19.6" y="-2.4 0.0 0.0 -2.4" font-size="23" text-anchor="middle" stroke="#000" stroke-width="0.3">(0%)</text>
<text class="r" transform="translate(1459.9 1483.0) scale(0.93 1)" x="0.0" font-size="32" text-anchor="middle">0</text>
<text class="r" transform="translate(1460.5 1505.1) scale(0.82 1)" x="-18.7 -7.4 7.1 19.6" y="-2.4 0.0 0.0 -2.4" font-size="23" text-anchor="middle" stroke="#000" stroke-width="0.3">(0%)</text>
<text class="r" transform="translate(1174.7 1552.8) scale(0.93 1)" x="0.0" font-size="32" text-anchor="middle">0</text>
<text class="r" transform="translate(1175.3 1574.9) scale(0.82 1)" x="-18.7 -7.4 7.1 19.6" y="-2.4 0.0 0.0 -2.4" font-size="23" text-anchor="middle" stroke="#000" stroke-width="0.3">(0%)</text>
<text class="r" transform="translate(1337.6 1552.8) scale(0.93 1)" x="0.0" font-size="32" text-anchor="middle">0</text>
<text class="r" transform="translate(1338.2 1574.9) scale(0.82 1)" x="-18.7 -7.4 7.1 19.6" y="-2.4 0.0 0.0 -2.4" font-size="23" text-anchor="middle" stroke="#000" stroke-width="0.3">(0%)</text>
<text class="r" transform="translate(1256.2 1632.0) scale(0.93 1)" x="0.0" font-size="32" text-anchor="middle">0</text>
<text class="r" transform="translate(1256.8 1654.1) scale(0.82 1)" x="-18.7 -7.4 7.1 19.6" y="-2.4 0.0 0.0 -2.4" font-size="23" text-anchor="middle" stroke="#000" stroke-width="0.3">(0%)</text>
</g>
</svg>
</body>
</html>
